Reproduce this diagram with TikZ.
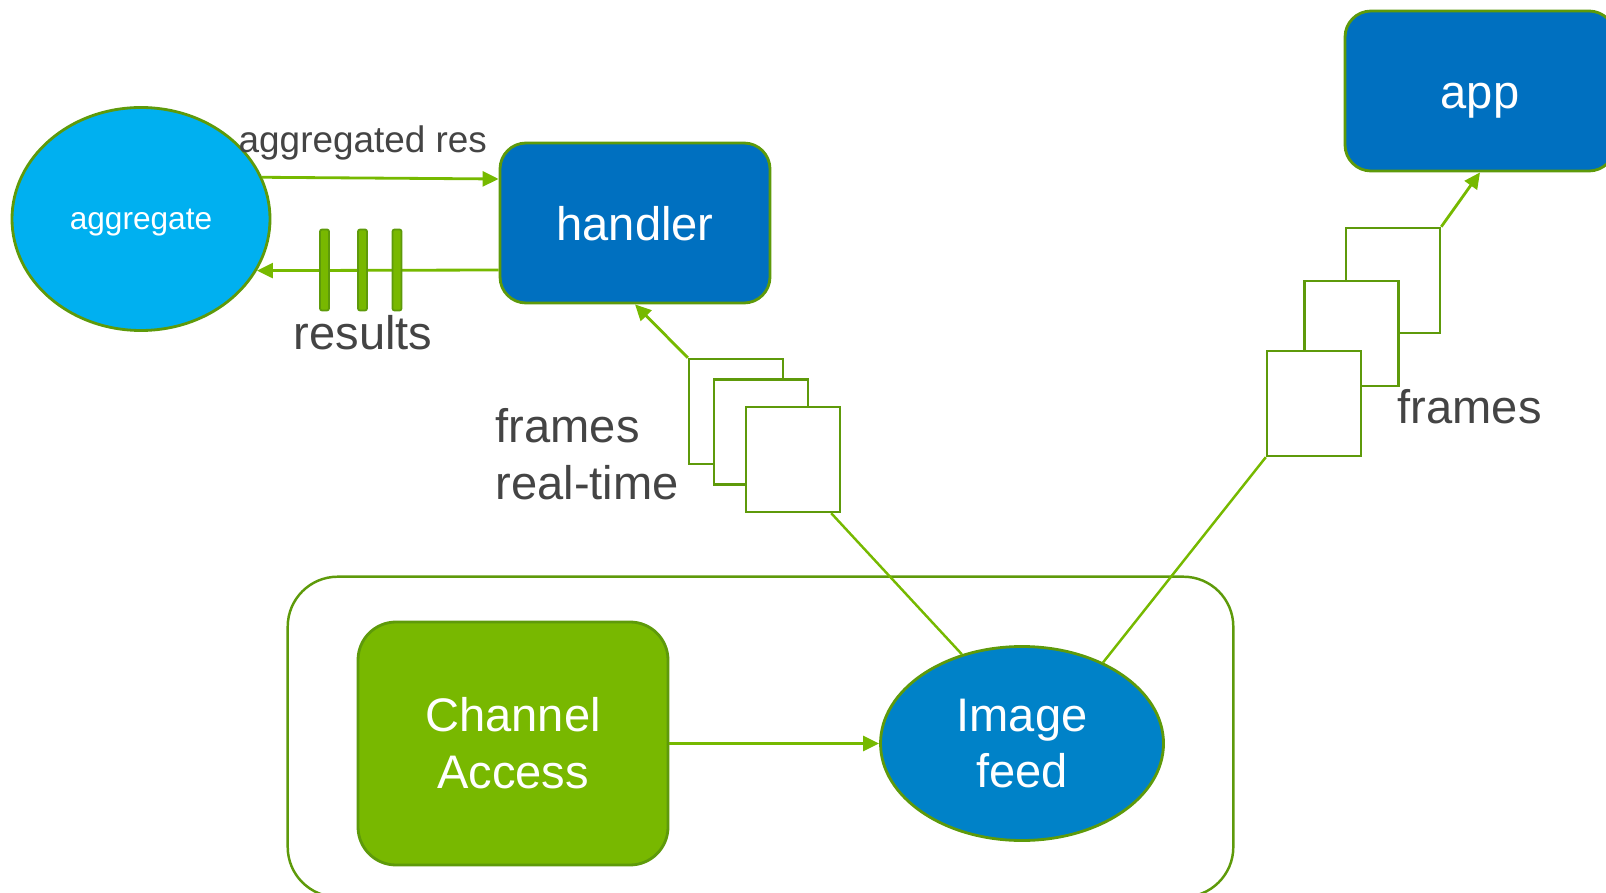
\documentclass[tikz,border=0pt]{standalone}
\usepackage{fontspec}
\setmainfont{Liberation Sans}
\usetikzlibrary{shapes.geometric, arrows.meta, positioning, calc}

\definecolor{linegreen}{HTML}{76B900}
\definecolor{edgegreen}{HTML}{5E9A0A}
\definecolor{skyblue}{HTML}{00B0F0}
\definecolor{boxblue}{HTML}{0070C0}
\definecolor{feedblue}{HTML}{0082C8}
\definecolor{chgreen}{HTML}{78B800}
\definecolor{labelgray}{HTML}{444444}

\newcommand{\bigfont}{\fontsize{13.4pt}{16.2pt}\selectfont}

\begin{document}
\begin{tikzpicture}[
    flow/.style={draw=linegreen, line width=0.8pt, -{Triangle[length=0.16cm,width=0.15cm]}},
    link/.style={draw=linegreen, line width=0.7pt},
    blockbox/.style={draw=edgegreen, line width=0.8pt, fill=boxblue, rounded corners=0.26cm,
        minimum width=2.70cm, minimum height=1.60cm, text=white, font=\bigfont,
        text height=0.35cm, text depth=0pt},
    framebox/.style={draw=edgegreen, line width=0.7pt, fill=white,
        minimum width=0.94cm, minimum height=1.05cm, inner sep=0pt},
    tick/.style={draw=edgegreen, line width=0.5pt, fill=chgreen, rounded corners=0.02cm,
        minimum width=0.09cm, minimum height=0.81cm, inner sep=0pt},
    lbl/.style={text=labelgray, font=\bigfont, inner sep=0pt}
  ]
    \useasboundingbox (0,0) rectangle (16.06,8.92);

    % frame around the capture side
    \draw[edgegreen, line width=0.7pt, rounded corners=0.5cm] (2.877,-0.05) rectangle (12.333,3.153);

    \node[ellipse, draw=edgegreen, line width=0.8pt, fill=skyblue, minimum width=2.58cm, minimum height=2.23cm,
        text=white, font=\fontsize{9pt}{11pt}\selectfont, text depth=0pt] (aggregate) at (1.41,6.73) {aggregate};
    \node[blockbox] (handler) at (6.35,6.69) {handler};
    \node[blockbox] (app) at (14.80,8.01) {app};

    \node[draw=edgegreen, line width=0.8pt, fill=chgreen, rounded corners=0.38cm, minimum width=3.10cm,
        minimum height=2.43cm, align=center, text=white, font=\bigfont] (channel) at (5.13,1.485) {Channel\\Access};
    \node[ellipse, draw=edgegreen, line width=0.8pt, fill=feedblue, minimum width=2.83cm, minimum height=1.94cm,
        inner sep=0pt, align=center, text=white, font=\bigfont] (feed) at (10.22,1.485) {Image\\feed};

    % stacked frames
    \node[framebox] (fr1) at (7.36,4.805) {};
    \node[framebox] (fr2) at (7.61,4.60) {};
    \node[framebox] (fr3) at (7.93,4.325) {};
    \node[framebox] (frA) at (13.93,6.115) {};
    \node[framebox] (frB) at (13.515,5.585) {};
    \node[framebox] (frC) at (13.14,4.885) {};

    % arrows
    \draw[flow] (aggregate.19) -- ([yshift=0.44cm]handler.west);
    \draw[flow] ([yshift=-0.47cm]handler.west) -- (aggregate.-24);
    \draw[flow] (channel) -- (feed);
    \draw[flow] (fr1.north west) -- (handler.south);
    \draw[flow] (frA.north east) -- (app.south);
    \draw[link] (feed.124) -- ([xshift=-0.1cm]fr3.south east);
    \draw[link] (feed.45) -- (frC.south west);

    % result packets on the way back
    \foreach \n/\x in {1/3.245, 2/3.625, 3/3.97}
        \node[tick] (bar\n) at (\x,6.22) {};

    \node[lbl, font=\fontsize{10.5pt}{12.6pt}\selectfont, anchor=base west] (aggres) at (2.38,7.39) {aggregated res};
    \node[lbl, anchor=base west] (results) at (2.93,5.42) {results};
    \node[lbl, anchor=base west, align=left] (rtlabel) at (4.95,3.927) {frames\\real-time};
    \node[lbl, anchor=base west] (frlabel) at (13.97,4.68) {frames};
\end{tikzpicture}
\end{document}
